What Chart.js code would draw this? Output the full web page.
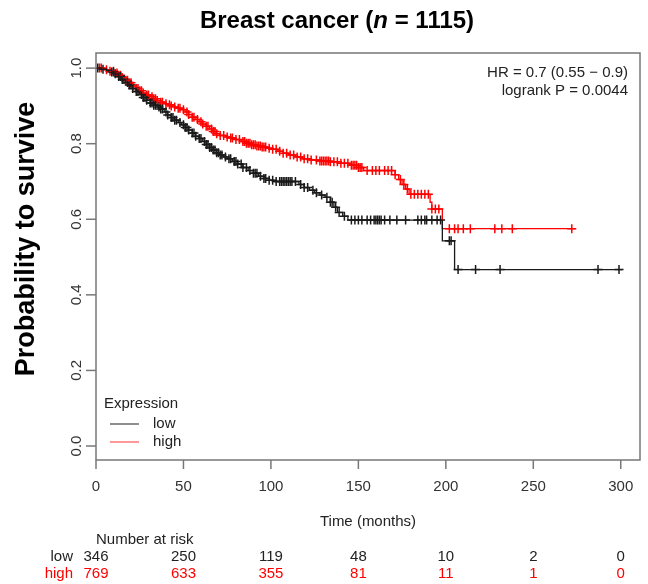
<!DOCTYPE html>
<html>
<head>
<meta charset="utf-8">
<script src="https://cdn.jsdelivr.net/npm/chart.js@4.4.1/dist/chart.umd.min.js"></script>
<style>
  body { margin: 0; background: #fff; }
  canvas { display: block; }
</style>
</head>
<body>
<canvas id="km" width="648" height="584"></canvas>
<script>
// KM steps (time in months, survival after the drop)
const lowTime = [0, 3, 6, 9, 11, 13, 15, 17, 19, 21, 23, 25, 27, 29, 31, 33, 35, 37, 39, 41, 43, 45, 47, 49, 51, 53, 55, 57, 59, 61, 63, 65, 67, 69, 71, 73, 75, 78, 81, 84, 87, 90, 93, 96, 99, 102, 116, 119, 122, 125, 128, 131, 134, 136, 138, 141, 144, 198, 205, 301];
const lowSurv = [1.0, 0.997, 0.994, 0.99, 0.985, 0.978, 0.97, 0.962, 0.955, 0.946, 0.938, 0.93, 0.922, 0.915, 0.908, 0.902, 0.897, 0.892, 0.884, 0.876, 0.869, 0.862, 0.856, 0.85, 0.843, 0.836, 0.828, 0.82, 0.814, 0.806, 0.798, 0.79, 0.783, 0.776, 0.77, 0.765, 0.76, 0.753, 0.746, 0.737, 0.729, 0.722, 0.714, 0.708, 0.703, 0.700, 0.692, 0.684, 0.677, 0.670, 0.664, 0.658, 0.645, 0.632, 0.618, 0.608, 0.598, 0.543, 0.467, 0.467];

const highTime = [0, 5, 8, 11, 13, 15, 17, 19, 21, 23, 25, 27, 29, 31, 33, 35, 37, 39, 41, 43, 45, 47, 49, 51, 53, 55, 57, 59, 61, 63, 65, 67, 69, 71, 74, 77, 80, 83, 86, 89, 92, 95, 98, 101, 104, 107, 110, 114, 118, 122, 128, 134, 140, 145, 150, 153, 171, 173, 175, 177, 179, 191, 192, 198, 274];
const highSurv = [1.0, 0.996, 0.992, 0.987, 0.981, 0.975, 0.968, 0.961, 0.953, 0.946, 0.94, 0.934, 0.929, 0.924, 0.919, 0.914, 0.91, 0.906, 0.903, 0.9, 0.897, 0.894, 0.89, 0.884, 0.877, 0.87, 0.864, 0.858, 0.852, 0.846, 0.839, 0.832, 0.826, 0.822, 0.818, 0.815, 0.811, 0.806, 0.801, 0.797, 0.794, 0.791, 0.788, 0.785, 0.78, 0.775, 0.77, 0.765, 0.76, 0.757, 0.754, 0.752, 0.748, 0.743, 0.737, 0.729, 0.718, 0.705, 0.692, 0.68, 0.666, 0.645, 0.627, 0.575, 0.575];

// censored times (+ marks)
const lowCensor = [1, 4, 9, 10, 11, 13, 14, 15, 16, 18, 19, 20, 21, 23, 24, 26, 27, 28, 29, 31, 32, 33, 34, 36, 37, 38, 40, 41, 43, 44, 45, 46, 48, 50, 51, 52, 53, 55, 56, 57, 59, 60, 62, 63, 64, 65, 66, 67, 68, 69, 70, 71, 72, 74, 76, 77, 79, 80, 81, 83, 84, 86, 88, 90, 91, 92, 94, 96, 97, 99, 101, 103, 105, 106, 107, 108, 109, 110, 111, 112, 114, 117, 119, 121, 124, 126, 129, 132, 134, 135, 137, 139, 142, 146, 148, 150, 152, 155, 157, 159, 160, 161, 162, 163, 165, 168, 172, 177, 184, 186, 188, 189, 192, 195, 197, 202, 203, 207, 217, 231, 287, 299];
const highCensor = [2, 3, 6, 8, 10, 12, 13, 14, 15, 17, 18, 19, 20, 21, 23, 24, 25, 26, 27, 29, 30, 32, 33, 34, 35, 37, 38, 40, 42, 43, 45, 47, 48, 50, 52, 53, 55, 56, 58, 60, 61, 63, 64, 66, 67, 68, 69, 71, 73, 75, 77, 78, 80, 82, 84, 85, 86, 87, 88, 89, 90, 91, 92, 93, 94, 95, 96, 97, 99, 101, 103, 105, 107, 109, 111, 113, 115, 117, 119, 121, 123, 126, 128, 129, 130, 131, 132, 133, 134, 136, 138, 140, 142, 144, 146, 147, 148, 149, 150, 151, 152, 155, 158, 160, 162, 165, 167, 169, 171, 174, 176, 178, 180, 182, 184, 186, 188, 190, 192, 194, 196, 202, 205, 207, 210, 214, 228, 232, 238, 272];

const xTicks = [0, 50, 100, 150, 200, 250, 300];
const yTicks = [0.0, 0.2, 0.4, 0.6, 0.8, 1.0];
const riskLow = [346, 250, 119, 48, 10, 2, 0];
const riskHigh = [769, 633, 355, 81, 11, 1, 0];

const BLACK = '#1a1a1a';
const RED = '#ff0000';
const FONT = '"Liberation Sans", Arial, sans-serif';

function steps(times, surv) {
    return times.map((t, i) => ({ x: t, y: surv[i] }));
}
// put each censor mark on its curve
function onCurve(times, surv, cens) {
    return cens.map(t => {
        let v = surv[0];
        for (let i = 0; i < times.length; i++) {
            if (times[i] <= t) v = surv[i];
        }
        return { x: t, y: v };
    });
}

const decor = {
    id: 'decor',
    afterDraw(chart) {
        const ctx = chart.ctx;
        const a = chart.chartArea;
        const xs = chart.scales.x, ys = chart.scales.y;
        ctx.save();

        // box
        ctx.strokeStyle = '#777';
        ctx.lineWidth = 1.5;
        ctx.strokeRect(a.left, a.top, a.right - a.left, a.bottom - a.top);

        // x ticks
        ctx.fillStyle = '#333';
        ctx.font = '15px ' + FONT;
        ctx.textAlign = 'center';
        ctx.textBaseline = 'middle';
        xTicks.forEach(v => {
            const px = xs.getPixelForValue(v);
            ctx.beginPath();
            ctx.moveTo(px, a.bottom);
            ctx.lineTo(px, a.bottom + 9);
            ctx.stroke();
            ctx.fillText(String(v), px, a.bottom + 27);
        });

        // y ticks, labels turned like R does
        yTicks.forEach(v => {
            const py = ys.getPixelForValue(v);
            ctx.beginPath();
            ctx.moveTo(a.left, py);
            ctx.lineTo(a.left - 10, py);
            ctx.stroke();
            ctx.save();
            ctx.translate(a.left - 19, py);
            ctx.rotate(-Math.PI / 2);
            ctx.fillText(v.toFixed(1), 0, 0);
            ctx.restore();
        });

        // y title
        ctx.save();
        ctx.fillStyle = '#000';
        ctx.font = 'bold 27px ' + FONT;
        ctx.translate(27, 239);
        ctx.rotate(-Math.PI / 2);
        ctx.fillText('Probability to survive', 0, 0);
        ctx.restore();

        // title with italic n
        const parts = [
            ['bold 24px ' + FONT, 'Breast cancer ('],
            ['italic bold 24px ' + FONT, 'n'],
            ['bold 24px ' + FONT, ' = 1115)']
        ];
        let total = 0;
        parts.forEach(p => { ctx.font = p[0]; total += ctx.measureText(p[1]).width; });
        let tx = 337 - total / 2;
        ctx.fillStyle = '#000';
        ctx.textAlign = 'left';
        ctx.textBaseline = 'alphabetic';
        parts.forEach(p => {
            ctx.font = p[0];
            ctx.fillText(p[1], tx, 28);
            tx += ctx.measureText(p[1]).width;
        });

        // HR text
        ctx.fillStyle = '#222';
        ctx.font = '15px ' + FONT;
        ctx.textAlign = 'right';
        ctx.textBaseline = 'middle';
        ctx.fillText('HR = 0.7 (0.55 \u2212 0.9)', 628, 73);
        ctx.fillText('logrank P = 0.0044', 628, 91);

        // legend
        ctx.textAlign = 'left';
        ctx.fillText('Expression', 104, 404);
        ctx.lineWidth = 1.2;
        ctx.strokeStyle = '#444';
        ctx.beginPath(); ctx.moveTo(110, 424); ctx.lineTo(139, 424); ctx.stroke();
        ctx.strokeStyle = '#ff5555';
        ctx.beginPath(); ctx.moveTo(110, 442); ctx.lineTo(139, 442); ctx.stroke();
        ctx.fillText('low', 153, 424);
        ctx.fillText('high', 153, 442);

        // x title and number at risk
        ctx.textAlign = 'center';
        ctx.fillText('Time (months)', (a.left + a.right) / 2, 522);
        ctx.textAlign = 'left';
        ctx.fillText('Number at risk', xs.getPixelForValue(0), 540);
        ctx.textAlign = 'right';
        ctx.fillText('low', 73, 557);
        ctx.fillStyle = RED;
        ctx.fillText('high', 73, 574);
        ctx.textAlign = 'center';
        xTicks.forEach((v, i) => {
            const px = xs.getPixelForValue(v);
            ctx.fillStyle = '#222';
            ctx.fillText(String(riskLow[i]), px, 557);
            ctx.fillStyle = RED;
            ctx.fillText(String(riskHigh[i]), px, 574);
        });
        ctx.restore();
    }
};

new Chart(document.getElementById('km').getContext('2d'), {
    type: 'scatter',
    data: {
        datasets: [
            {
                label: 'low',
                data: steps(lowTime, lowSurv),
                showLine: true,
                stepped: 'before',
                borderColor: BLACK,
                borderWidth: 1.3,
                pointRadius: 0
            },
            {
                label: 'high',
                data: steps(highTime, highSurv),
                showLine: true,
                stepped: 'before',
                borderColor: RED,
                borderWidth: 1.3,
                pointRadius: 0
            },
            {
                label: 'low censored',
                data: onCurve(lowTime, lowSurv, lowCensor),
                pointStyle: 'cross',
                pointRadius: 4.5,
                borderColor: BLACK,
                borderWidth: 1.5
            },
            {
                label: 'high censored',
                data: onCurve(highTime, highSurv, highCensor),
                pointStyle: 'cross',
                pointRadius: 4.5,
                borderColor: RED,
                borderWidth: 1.5
            }
        ]
    },
    plugins: [decor],
    options: {
        responsive: false,
        animation: false,
        layout: { padding: { left: 96, top: 53, right: 8, bottom: 124 } },
        plugins: {
            legend: { display: false },
            tooltip: { enabled: false }
        },
        scales: {
            x: { type: 'linear', min: 0, max: 311, display: false },
            y: { type: 'linear', min: -0.037, max: 1.04, display: false }
        }
    }
});
</script>
</body>
</html>
